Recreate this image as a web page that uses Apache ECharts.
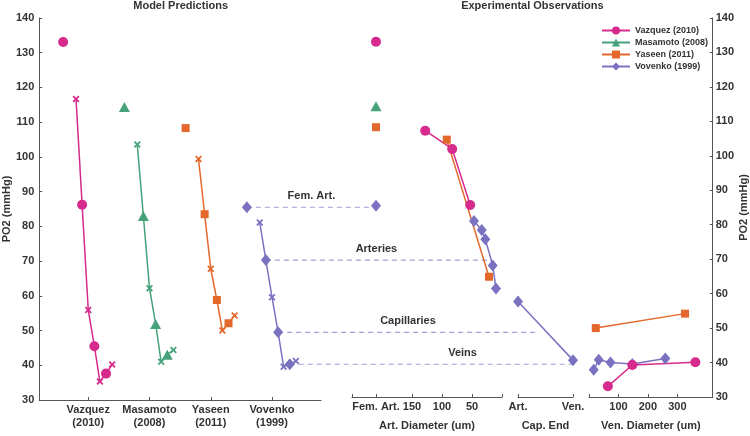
<!DOCTYPE html>
<html><head><meta charset="utf-8">
<script src="https://cdn.jsdelivr.net/npm/echarts@6/dist/echarts.min.js"></script>
<style>html,body{margin:0;padding:0;background:#fff}#c{width:750px;height:436px}</style>
</head><body><div id="c"></div>
<script>
// ---------------- DATA ----------------
const studies = ['Vazquez (2010)', 'Masamoto (2008)', 'Yaseen (2011)', 'Vovenko (1999)'];
const modelCategories = ['Vazquez\n(2010)', 'Masamoto\n(2008)', 'Yaseen\n(2011)', 'Vovenko\n(1999)'];
// model stages along each category (first = input value, then alternating vessel / transition points)
const modelStageOffsets = [-0.41, -0.2, -0.1, 0, 0.1, 0.19, 0.29, 0.39];
const vazquezModel  = [133.1, 116.7, 86.2, 55.9, 45.5, 35.3, 37.6, 40.2];
const masamotoModel = [114.4, 103.6, 83.0, 62.2, 51.9, 41.0, 43.0, 44.4];
const yaseenModel   = [108.3, 99.4, 83.5, 67.8, 58.8, 50.0, 52.1, 54.3];
const vovenkoModel  = [85.5, 81.1, 70.3, 59.6, 49.5, 39.6, 40.3, 41.2];

// Experimental: femoral artery values (plotted at the "Fem. Art." position of the art. diameter axis)
const femArtPosition = 210;
const femArtValues = [133.1, 114.4, 108.3, 85.5];
// Arterial diameter (um) vs PO2
const vazquezArtD = [128, 83, 53];        const vazquezArtPO2 = [107.3, 102.0, 85.7];
const yaseenArtD  = [92, 21.7];           const yaseenArtPO2  = [104.7, 64.9];
const vovenkoArtD = [46.7, 33.8, 27.8, 15.5, 10]; const vovenkoArtPO2 = [81.1, 78.5, 75.8, 68.2, 61.5];
// Capillary end (0 = Art., 1 = Ven.)
const capEndLabels = ['Art.', 'Ven.'];
const vovenkoCapX = [0, 1];               const vovenkoCapPO2 = [57.7, 40.7];
// Venular diameter (um) vs PO2
const vazquezVenD = [64, 147, 361];       const vazquezVenPO2 = [33.1, 39.3, 40.1];
const yaseenVenD  = [23, 326];            const yaseenVenPO2  = [50.0, 54.2];
const vovenkoVenD = [16, 33, 73, 147, 259]; const vovenkoVenPO2 = [37.9, 40.8, 40.0, 39.6, 41.2];

// Reference levels (Vovenko model) carried across to the observations
const refNames = ['Fem. Art.', 'Arteries', 'Capillaries', 'Veins'];
const refModelStage = [0, 2, 4, 6];
const refEndAxis = [1, 1, 2, 2];
const refEndX = [210, 25, 0.36, 1];

// tick labels
const yTicks = [30, 140, 10];
const artTicks = [50, 100, 150, 210];
const venTicks = [100, 200, 300];

// ---------------- STYLE ----------------
const FONT = 'Liberation Sans';
const TXT = '#333';
const AX = '#555';
const colors = ['#d62a8c', '#45a27a', '#e4672b', '#7a72c0'];
const shapes = [
  {symbol: 'circle', size: 10},
  {symbol: 'triangle', size: [11, 10]},
  {symbol: 'rect', size: 8},
  {symbol: 'diamond', size: [10, 12]}
];
const CROSS = 'path://M1.8,0L5,3.2L8.2,0L10,1.8L6.8,5L10,8.2L8.2,10L5,6.8L1.8,10L0,8.2L3.2,5L0,1.8Z';
const refLabelAt = [0.5, 0.5, 0.5, 0.61];

const chart = echarts.init(document.getElementById('c'));
const TOP = 18, BOTTOM = 36;
const grids = [
  {left: 36, width: 285, top: TOP, bottom: BOTTOM},
  {left: 352, width: 150, top: TOP, bottom: BOTTOM},
  {left: 518, width: 55, top: TOP, bottom: BOTTOM},
  {left: 589, width: 126, top: TOP, bottom: BOTTOM}
];
const lab = {fontFamily: FONT, fontWeight: 'bold', fontSize: 11, color: TXT};
function xAx(g, extra) {
  return Object.assign({
    gridIndex: g, type: 'value', splitLine: {show: false},
    axisLine: {show: true, onZero: false, lineStyle: {color: AX, width: 1}},
    axisTick: {show: true, inside: true, length: 3, lineStyle: {color: AX}},
    axisLabel: Object.assign({margin: 4, lineHeight: 12.5}, lab),
    nameLocation: 'middle', nameGap: 23,
    nameTextStyle: Object.assign({}, lab)
  }, extra);
}
const xAxes = [
  xAx(0, {min: 0.2, max: 4.8,
    axisTick: {show: true, inside: true, length: 3, lineStyle: {color: AX}, customValues: [1, 2, 3, 4]},
    axisLabel: Object.assign({margin: 4, lineHeight: 12.5, customValues: [1, 2, 3, 4], formatter: v => modelCategories[Math.round(v) - 1]}, lab)}),
  xAx(1, {min: 0, max: 250, inverse: true, name: 'Art. Diameter (um)',
    axisTick: {show: true, inside: true, length: 3, lineStyle: {color: AX}, customValues: [0].concat(artTicks, [250])},
    axisLabel: Object.assign({margin: 4, customValues: artTicks, formatter: v => v === femArtPosition ? 'Fem. Art.' : String(v)}, lab)}),
  xAx(2, {min: 0, max: 1, name: 'Cap. End',
    axisTick: {show: true, inside: true, length: 3, lineStyle: {color: AX}, customValues: [0, 1]},
    axisLabel: Object.assign({margin: 4, customValues: [0, 1], formatter: v => capEndLabels[Math.round(v)]}, lab)}),
  xAx(3, {min: 0, max: 420, name: 'Ven. Diameter (um)',
    axisTick: {show: true, inside: true, length: 3, lineStyle: {color: AX}, customValues: [0].concat(venTicks)},
    axisLabel: Object.assign({margin: 4, customValues: venTicks}, lab)})
];
function yAx(g, show, pos) {
  return {
    gridIndex: g, type: 'value', show: show, position: pos,
    min: yTicks[0], max: yTicks[1], interval: yTicks[2],
    splitLine: {show: false},
    axisLine: {show: true, onZero: false, lineStyle: {color: AX}},
    axisTick: {show: true, inside: true, length: 3, lineStyle: {color: AX}},
    axisLabel: Object.assign({margin: pos === 'left' ? 5 : 3}, lab),
    name: 'PO2 (mmHg)', nameLocation: 'middle', nameRotate: 90, nameGap: pos === 'left' ? 24 : 23,
    nameTextStyle: Object.assign({}, lab)
  };
}
const yAxes = [yAx(0, true, 'left'), yAx(1, false, 'left'), yAx(2, false, 'left'), yAx(3, true, 'right')];

const series = [];
const modelValues = [vazquezModel, masamotoModel, yaseenModel, vovenkoModel];
modelValues.forEach((vals, i) => {
  const cx = i + 1;
  series.push({
    type: 'scatter', name: studies[i] + ' model input', xAxisIndex: 0, yAxisIndex: 0,
    data: [[cx + modelStageOffsets[0], vals[0]]],
    symbol: shapes[i].symbol, symbolSize: shapes[i].size, itemStyle: {color: colors[i], opacity: 1}, z: 3
  });
  series.push({
    type: 'line', name: studies[i] + ' model', xAxisIndex: 0, yAxisIndex: 0,
    data: vals.slice(1).map((v, k) => {
      const idx = k + 1, cross = idx % 2 === 1;
      return {value: [cx + modelStageOffsets[idx], v], symbol: cross ? CROSS : shapes[i].symbol, symbolSize: cross ? 7 : shapes[i].size};
    }),
    lineStyle: {color: colors[i], width: 1.5}, itemStyle: {color: colors[i]}, showSymbol: true
  });
});
function expLine(ax, i, xs, ys, name) {
  series.push({
    type: 'line', name: name || studies[i], xAxisIndex: ax, yAxisIndex: ax,
    data: xs.map((x, k) => [x, ys[k]]),
    symbol: shapes[i].symbol, symbolSize: shapes[i].size, showSymbol: true,
    lineStyle: {color: colors[i], width: 1.5}, itemStyle: {color: colors[i]}
  });
}
// fem art single points (line series so legend shows line+marker)
femArtValues.forEach((v, i) => expLine(1, i, [femArtPosition], [v]));
expLine(1, 2, yaseenArtD, yaseenArtPO2);
expLine(1, 0, vazquezArtD, vazquezArtPO2);
expLine(1, 3, vovenkoArtD, vovenkoArtPO2);
expLine(2, 3, vovenkoCapX, vovenkoCapPO2);
expLine(3, 2, yaseenVenD, yaseenVenPO2);
expLine(3, 3, vovenkoVenD, vovenkoVenPO2);
expLine(3, 0, vazquezVenD, vazquezVenPO2);

chart.setOption({
  animation: false,
  backgroundColor: '#fff',
  textStyle: {fontFamily: FONT},
  grid: grids,
  xAxis: xAxes,
  yAxis: yAxes,
  legend: {
    data: studies, orient: 'vertical', left: 601, top: 26, padding: 0,
    itemWidth: 28, itemHeight: 10, itemGap: 3,
    textStyle: {fontFamily: FONT, fontWeight: 'bold', fontSize: 9, color: TXT}
  },
  series: series
});

// reference dashed levels and titles, positioned through the axes' scales
const P = (g, x, y) => chart.convertToPixel({gridIndex: g}, [x, y]);
const graphics = [];
const titleY = P(0, 0.2, yTicks[1])[1] - 12;
const leftA = P(0, 0.2, 30)[0], leftB = P(0, 4.8, 30)[0];
const rightA = P(1, 250, 30)[0], rightB = P(3, 420, 30)[0];
[['Model Predictions', (leftA + leftB) / 2 + 0.5], ['Experimental Observations', (rightA + rightB) / 2]].forEach(t => {
  graphics.push({type: 'text', x: t[1], y: titleY, style: {text: t[0], font: 'bold 11px "' + FONT + '"', fill: TXT, align: 'center', verticalAlign: 'middle', textAlign: 'center', textVerticalAlign: 'middle'}});
});
refNames.forEach((n, k) => {
  const st = refModelStage[k];
  const y = vovenkoModel[st];
  const a = P(0, 4 + modelStageOffsets[st], y);
  const b = P(refEndAxis[k], refEndX[k], y);
  graphics.push({type: 'line', z: 1, shape: {x1: a[0], y1: a[1], x2: b[0], y2: a[1]}, style: {stroke: '#a29dd8', lineWidth: 1.2, lineDash: [5, 4]}});
  const lx = a[0] + (b[0] - a[0]) * refLabelAt[k];
  graphics.push({type: 'text', x: lx, y: a[1] - 11, style: {text: n, font: 'bold 11px "' + FONT + '"', fill: TXT, align: 'center', verticalAlign: 'middle', textAlign: 'center', textVerticalAlign: 'middle'}});
});
chart.setOption({graphic: graphics});
</script></body></html>
